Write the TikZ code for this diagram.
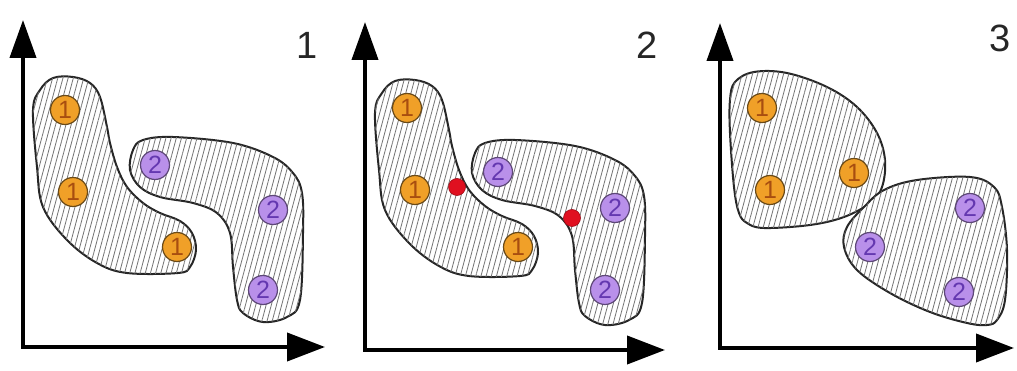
\documentclass[tikz,border=0pt]{standalone}
\usepackage{fontspec}
\setmainfont{Liberation Sans}
\usetikzlibrary{arrows.meta,patterns.meta}
\definecolor{orfill}{HTML}{F0A028}
\definecolor{ordig}{HTML}{A84E10}
\definecolor{orline}{HTML}{6A4A18}
\definecolor{pufill}{HTML}{B990EA}
\definecolor{pudig}{HTML}{6438B0}
\definecolor{puline}{HTML}{5E4878}
\definecolor{reddot}{HTML}{E01020}
\tikzset{
  axes/.style={line width=4pt, line join=miter,
    {Triangle[length=38pt,width=26pt]}-{Triangle[length=38pt,width=28pt]}},
  blob/.style={draw=black!85, line width=2pt, fill=white,
    postaction={pattern={Lines[angle=75,distance=5pt,line width=0.8pt]}, pattern color=black!55}},
  ptone/.style={circle, fill=orfill, draw=orline, line width=1.2pt, minimum size=29pt,
    inner sep=0pt, text=ordig, font=\fontsize{25}{25}\selectfont},
  pttwo/.style={circle, fill=pufill, draw=puline, line width=1.2pt, minimum size=29pt,
    inner sep=0pt, text=pudig, font=\fontsize{25}{25}\selectfont},
  reddotstyle/.style={circle, fill=reddot, draw=reddot!70!black, line width=0.6pt,
    minimum size=17pt, inner sep=0pt},
  paneltitle/.style={font=\fontsize{38}{38}\selectfont, inner sep=0pt, text=black!85}
}
\newcommand{\blobone}{%
  \draw[blob] plot[smooth cycle, tension=0.6] coordinates {
    (73,77) (90,83) (100,97) (107,127) (110,143) (117,167) (127,187) (143,203)
    (160,213) (180,221) (192,233) (196,250) (190,267) (178,273) (127,273)
    (97,263) (67,240) (43,207) (37,167) (33,110) (40,90) (53,78)};}
\newcommand{\blobtwo}{%
  \draw[blob] plot[smooth cycle, tension=0.6] coordinates {
    (133,150) (143,140) (173,137) (233,143) (273,157) (293,173) (302,193)
    (303,233) (300,300) (287,317) (263,322) (243,313) (237,300) (233,267)
    (230,233) (217,213) (193,203) (160,197) (140,187) (130,170)};}
\begin{document}
\begin{tikzpicture}[x=1pt,y=-1pt]
\useasboundingbox (0,0) rectangle (1017,371);
% ---------- panel 1
\coordinate (o1) at (23,347);
\coordinate (y1) at (23,20);
\coordinate (x1) at (325,347);
\draw[axes] (y1) -- (o1) -- (x1);
\blobone
\blobtwo
\node[ptone] (a11) at (65,110) {1};
\node[ptone] (a12) at (73,192) {1};
\node[ptone] (a13) at (177,247) {1};
\node[pttwo] (b11) at (155,165) {2};
\node[pttwo] (b12) at (273,210) {2};
\node[pttwo] (b13) at (263,290) {2};
\node[paneltitle] (t1) at (307,45) {1};
% ---------- panel 2
\coordinate (o2) at (365,350);
\coordinate (y2) at (365,22);
\coordinate (x2) at (665,350);
\draw[axes] (y2) -- (o2) -- (x2);
\begin{scope}[shift={(342,3)}]
\blobone
\blobtwo
\end{scope}
\node[ptone] (a21) at (407,108) {1};
\node[ptone] (a22) at (415,190) {1};
\node[ptone] (a23) at (518,247) {1};
\node[pttwo] (b21) at (498,172) {2};
\node[pttwo] (b22) at (615,208) {2};
\node[pttwo] (b23) at (605,290) {2};
\node[reddotstyle] (r1) at (457,187) {};
\node[reddotstyle] (r2) at (572,218) {};
\node[paneltitle] (t2) at (647,45) {2};
% ---------- panel 3
\coordinate (o3) at (720,348);
\coordinate (y3) at (720,23);
\coordinate (x3) at (1014,348);
\draw[axes] (y3) -- (o3) -- (x3);
\draw[blob] plot[smooth cycle, tension=0.6] coordinates {
  (754,72) (787,73) (827,87) (857,107) (877,133) (885,160) (882,187) (870,203)
  (844,217) (810,225) (764,228) (747,223) (739,213) (734,187) (730,133)
  (730,100) (735,82)};
\draw[blob] plot[smooth cycle, tension=0.6] coordinates {
  (864,207) (884,190) (917,180) (970,177) (994,187) (1002,207) (1007,250)
  (1005,300) (997,320) (987,325) (967,323) (930,312) (890,293) (857,270)
  (844,247) (847,227)};
\node[ptone] (a31) at (762,108) {1};
\node[ptone] (a32) at (770,190) {1};
\node[ptone] (a33) at (854,173) {1};
\node[pttwo] (b31) at (970,208) {2};
\node[pttwo] (b32) at (870,247) {2};
\node[pttwo] (b33) at (959,292) {2};
\node[paneltitle] (t3) at (1000,38) {3};
\end{tikzpicture}
\end{document}
